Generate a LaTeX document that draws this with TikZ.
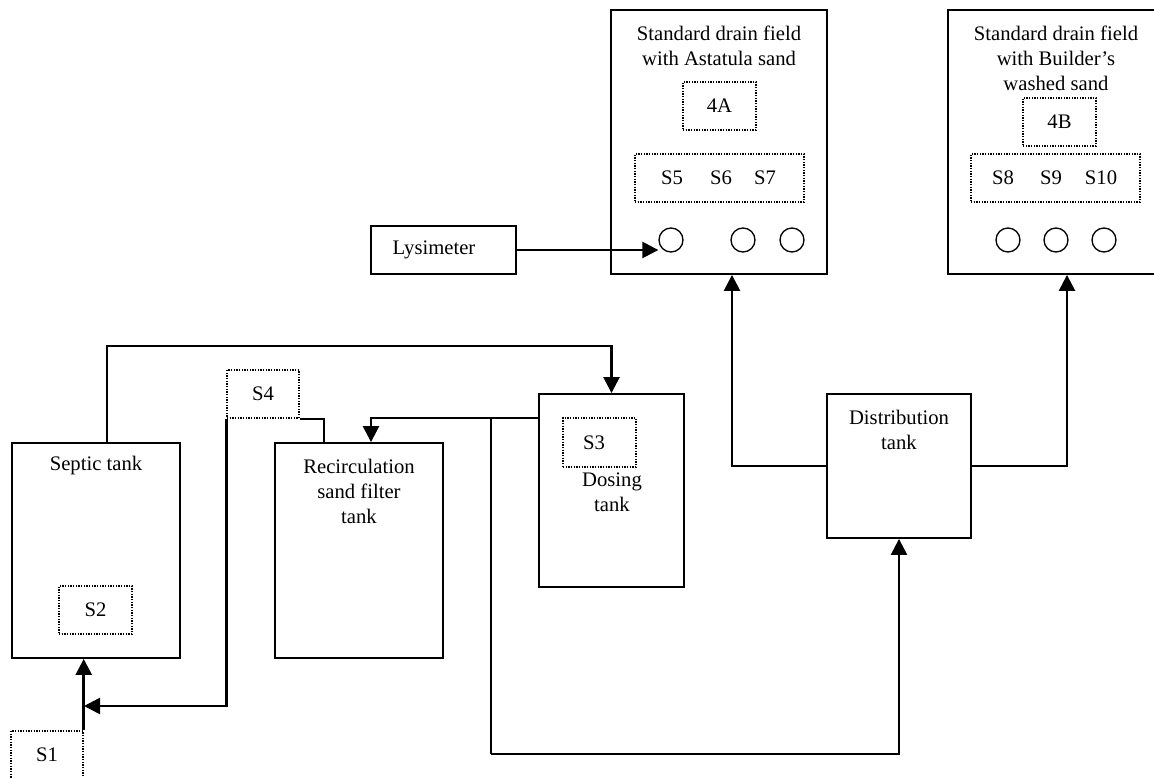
\documentclass[tikz,border=0pt]{standalone}
\usepackage{fontspec}
\setmainfont{Liberation Serif}
\usetikzlibrary{arrows.meta}

\tikzset{
  box/.style 2 args={draw, line width=1.4pt, inner sep=0pt, minimum width=#1*0.75pt, minimum height=#2*0.75pt},
  sample/.style 2 args={draw, line width=1.1pt, dash pattern=on 1pt off 1pt, inner sep=0pt, fill=white, minimum width=#1*0.75pt, minimum height=#2*0.75pt},
  port/.style={circle, draw, line width=1pt, inner sep=0pt, minimum size=24*0.75pt},
  pipe/.style={line width=1.4pt},
  flow/.style={line width=1.9pt, -{Triangle[length=12pt,width=12pt]}}
}

\begin{document}
\begin{tikzpicture}[x=0.75pt, y=-0.75pt, every node/.style={font=\fontsize{15.5}{18.75}\selectfont}]
  \useasboundingbox (0,0) rectangle (1154,778);

  % drain fields
  \node [box={216}{264}] (fieldA) at (719,142) {};
  \node [align=center] (fieldAtxt) at (719,45.5) {Standard drain field\\with Astatula sand};
  \node [sample={73}{48}] (s4A) at (719.5,106) {4A};
  \node [sample={169}{48}] (sA) at (719.5,178) {};
  \node (S5) at (672,178) {S5};
  \node (S6) at (721,178) {S6};
  \node (S7) at (765,178) {S7};
  \node [port] (a1) at (671,240) {};
  \node [port] (a2) at (743,240) {};
  \node [port] (a3) at (792,240) {};

  \node [box={216}{264}] (fieldB) at (1056,142) {};
  \node [align=center] (fieldBtxt) at (1056,58) {Standard drain field\\with Builder’s\\washed sand};
  \node [sample={73}{48}] (s4B) at (1059.5,122) {4B};
  \node [sample={169}{48}] (sB) at (1055.5,178) {};
  \node (S8) at (1003,178) {S8};
  \node (S9) at (1051,178) {S9};
  \node (S10) at (1101,178) {S10};
  \node [port] (b1) at (1008,240) {};
  \node [port] (b2) at (1056,240) {};
  \node [port] (b3) at (1104,240) {};

  \node [box={145}{48}] (lysi) at (443.5,250) {};
  \node (lysitxt) at (434,250) {Lysimeter};

  % tanks
  \node [box={168}{215}] (septic) at (96,550.5) {};
  \node (septictxt) at (96,466) {Septic tank};
  \node [sample={73}{48}] (S2) at (95.5,610) {S2};

  \node [box={168}{215}] (recirc) at (359,550.5) {};
  \node [align=center] (recirctxt) at (359,491) {Recirculation\\sand filter\\tank};

  \node [box={145}{193}] (dosing) at (611.5,490.5) {};
  \node [sample={73}{49}] (S3) at (599.5,442.5) {};
  \node (S3txt) at (594,442.5) {S3};
  \node [align=center] (dosingtxt) at (612,492) {Dosing\\tank};

  \node [box={144}{144}] (dist) at (899,466) {};
  \node [align=center] (disttxt) at (899,429.5) {Distribution\\tank};

  \node [sample={72}{48}] (S4) at (263,394) {S4};
  \node [sample={72}{48}] (S1) at (47,755) {S1};

  \coordinate (top) at (107,346);
  \coordinate (rc) at (324,418);
  \coordinate (rr) at (371,418);
  \coordinate (br) at (491,418);
  \coordinate (bot) at (491,754);
  \coordinate (join) at (84,706);
  \coordinate (ua) at (732,300);
  \coordinate (ub) at (1067,300);

  % connectors
  \draw [flow] (septic.north -| top) |- (dosing.north |- top) -- (dosing.north);
  \draw [flow] (dosing.west |- rr) -| (recirc.north -| rr);
  \draw [pipe] (br) -- (bot);
  \draw [flow] (bot) -| (dist.south);
  \draw [pipe] (recirc.north -| rc) |- (S4.south east);
  \draw [flow] (S4.south west) |- (join);
  \draw [flow] (S1.north east) -- (septic.south -| S1.north east);
  \draw [flow] (lysi.east) -- (lysi.east -| a1.west);
  \draw [flow] (dist.west) -| (ua |- fieldA.south);
  \draw [flow] (dist.east) -| (ub |- fieldB.south);
\end{tikzpicture}
\end{document}
